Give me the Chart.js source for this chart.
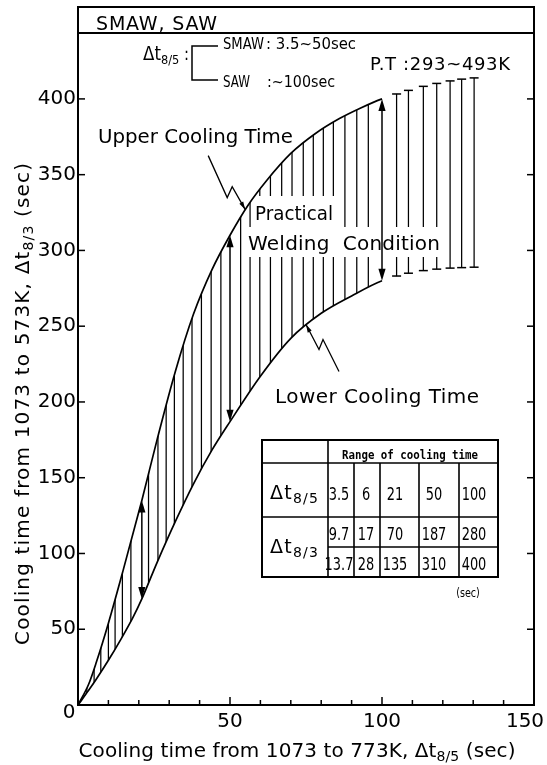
<!DOCTYPE html>
<html>
<head>
<meta charset="utf-8">
<script src="https://cdn.jsdelivr.net/npm/chart.js@4"></script>
<style>
  html, body { margin: 0; padding: 0; background: #fff; }
  canvas { display: block; }
</style>
</head>
<body>
<canvas id="c" width="547" height="765"></canvas>
<script>
// Upper cooling-time boundary: Δt8/5 (sec) -> Δt8/3 (sec)
const upperDt85 = [0, 3.5, 6, 10, 15, 21, 26, 32, 38, 44, 50, 56, 62, 70, 78, 86, 93, 100, 106, 113, 120, 126, 131];
const upperDt83 = [0, 13.7, 28, 54, 90, 135, 175, 220, 258, 287, 310, 330, 346, 364, 377, 387, 394, 400, 404, 408, 411, 413, 414];

// Lower cooling-time boundary
const lowerDt85 = [0, 3.5, 6, 10, 14, 18, 21, 26, 32, 38, 44, 50, 60, 70, 80, 90, 100, 110, 120, 131];
const lowerDt83 = [0, 9.7, 17, 29.5, 43, 57.5, 70, 94, 121, 146, 168, 187, 217, 242, 258.5, 270, 280, 285.5, 288, 289];

// Range of cooling time table
const tableDt85 = [3.5, 6, 21, 50, 100];
const tableDt83Low = [9.7, 17, 70, 187, 280];
const tableDt83High = [13.7, 28, 135, 310, 400];

// Double arrows drawn at these table columns
const arrowColumns = [2, 3, 4];

// Vertical hatching of the practical welding band (Δt8/5 positions)
const hatchDt85 = [2.9, 5.3, 7.5, 10, 12.2, 14.6, 17.4, 23.2, 26.3, 29, 31.7, 34.6, 37.5, 40.6, 43.8, 47,
                   53.5, 56.6, 59.8, 63.3, 67, 70.4, 74.1, 77.4, 80.7, 84, 87.8, 91.7, 95.5,
                   104.8, 108.7, 113.6, 118, 122.4, 126.2, 130.3];

// Past this Δt8/5 the band edges are only indicated by short caps
const brokenFrom = 100;

// Axis ticks
const xTicksMajor = [50, 100, 150];
const xTicksMinor = [10, 20, 30, 40, 60, 70, 80, 90, 110, 120, 130, 140];
const yTicks = [50, 100, 150, 200, 250, 300, 350, 400];

// Where the leader lines touch the curves (Δt8/5)
const upperLeaderAt = 55;
const lowerLeaderAt = 75;

const FONT = '"DejaVu Sans", sans-serif';

function pts(xs, ys) { return xs.map((x, i) => ({ x, y: ys[i] })); }

// Draws text runs (for subscripts); fits them to a width by spacing or squeezing
function drawRuns(ctx, runs, x, y, align, width, squeeze) {
  let natural = 0, n = 0;
  for (const r of runs) {
    ctx.font = r.font;
    ctx.letterSpacing = '0px';
    r._w = ctx.measureText(r.text).width;
    r._n = [...r.text].length;
    natural += r._w; n += r._n;
  }
  let sp = 0, sc = squeeze || 1;
  if (width) {
    if (natural > width) sc = width / natural;
    else sp = (width - natural) / Math.max(1, n - 1);
  }
  const total = (natural + sp * (n - 1)) * sc;
  const x0 = align === 'center' ? x - total / 2 : align === 'right' ? x - total : x;
  ctx.save();
  ctx.translate(x0, y);
  ctx.scale(sc, 1);
  ctx.textAlign = 'left';
  ctx.textBaseline = 'alphabetic';
  let cx = 0;
  for (const r of runs) {
    ctx.font = r.font;
    ctx.letterSpacing = sp + 'px';
    ctx.fillText(r.text, cx, r.dy || 0);
    cx += r._w + sp * r._n;
  }
  ctx.letterSpacing = '0px';
  ctx.restore();
}

function seg(ctx, x1, y1, x2, y2) {
  ctx.beginPath(); ctx.moveTo(x1, y1); ctx.lineTo(x2, y2); ctx.stroke();
}

function head(ctx, x, y, dx, dy, len, half) {
  const L = Math.hypot(dx, dy), ux = dx / L, uy = dy / L;
  ctx.beginPath();
  ctx.moveTo(x, y);
  ctx.lineTo(x - ux * len - uy * half, y - uy * len + ux * half);
  ctx.lineTo(x - ux * len + uy * half, y - uy * len - ux * half);
  ctx.closePath();
  ctx.fill();
}

// Follows a line element's points using its bezier control points
function trace(ctx, points, reverse) {
  const list = reverse ? points.slice().reverse() : points;
  list.forEach((p, i) => {
    if (i === 0) { ctx.lineTo(p.x, p.y); return; }
    const q = list[i - 1];
    if (reverse) ctx.bezierCurveTo(q.cp1x, q.cp1y, p.cp2x, p.cp2y, p.x, p.y);
    else ctx.bezierCurveTo(q.cp2x, q.cp2y, p.cp1x, p.cp1y, p.x, p.y);
  });
}

// Boxes kept clear of hatching behind the band label
const labelBoxes = [[252, 196, 342, 227], [244, 227, 446, 257]];

const bandPlugin = {
  id: 'band',
  afterDatasetsDraw(chart) {
    const ctx = chart.ctx, a = chart.chartArea;
    const sx = chart.scales.x, sy = chart.scales.y;
    const upLine = chart.getDatasetMeta(0).dataset;
    const loLine = chart.getDatasetMeta(1).dataset;
    const upPts = chart.getDatasetMeta(0).data;
    const loPts = chart.getDatasetMeta(1).data;

    ctx.save();
    ctx.strokeStyle = '#000';
    ctx.fillStyle = '#000';

    // hatching, clipped to the band between the two curves
    ctx.save();
    ctx.beginPath();
    ctx.moveTo(upPts[0].x, upPts[0].y);
    trace(ctx, upPts, false);
    trace(ctx, loPts, true);
    ctx.closePath();
    ctx.clip();
    ctx.lineWidth = 1.25;
    for (const h of hatchDt85) {
      const px = sx.getPixelForValue(h);
      let parts = [[a.top, a.bottom]];
      for (const b of labelBoxes) {
        if (px >= b[0] && px <= b[2]) {
          const next = [];
          for (const [t, bt] of parts) {
            if (b[3] <= t || b[1] >= bt) { next.push([t, bt]); continue; }
            if (b[1] > t) next.push([t, b[1]]);
            if (b[3] < bt) next.push([b[3], bt]);
          }
          parts = next;
        }
      }
      for (const [t, bt] of parts) seg(ctx, px, t, px, bt);
    }
    ctx.restore();

    // short caps marking the broken part of both edges
    ctx.lineWidth = 1.5;
    for (const h of hatchDt85) {
      if (h <= brokenFrom) continue;
      const px = sx.getPixelForValue(h);
      const pu = upLine.interpolate({ x: px }, 'x');
      const pl = loLine.interpolate({ x: px }, 'x');
      if (pu && pu.y !== undefined) seg(ctx, px - 4.5, pu.y, px + 4.5, pu.y);
      if (pl && pl.y !== undefined) seg(ctx, px - 4.5, pl.y, px + 4.5, pl.y);
    }

    // double arrows between the tabulated lower and upper values
    ctx.lineWidth = 1.5;
    for (const i of arrowColumns) {
      const px = sx.getPixelForValue(tableDt85[i]);
      const yTop = sy.getPixelForValue(tableDt83High[i]);
      const yBot = sy.getPixelForValue(tableDt83Low[i]);
      seg(ctx, px, yTop + 6, px, yBot - 6);
      head(ctx, px, yTop, 0, -1, 12, 3.6);
      head(ctx, px, yBot, 0, 1, 12, 3.6);
    }

    // leader lines with a zigzag
    ctx.lineWidth = 1.3;
    const tu = upLine.interpolate({ x: sx.getPixelForValue(upperLeaderAt) }, 'x');
    if (tu) {
      const p = [[-37, -54], [-18, -12], [-13, -23], [0, 0]].map(([dx, dy]) => [tu.x + dx, tu.y + dy]);
      ctx.beginPath(); ctx.moveTo(p[0][0], p[0][1]);
      for (let k = 1; k < p.length; k++) ctx.lineTo(p[k][0], p[k][1]);
      ctx.stroke();
      head(ctx, tu.x, tu.y, 13, 23, 8, 2.2);
    }
    const tl = loLine.interpolate({ x: sx.getPixelForValue(lowerLeaderAt) }, 'x');
    if (tl) {
      const p = [[0, 0], [13, 25], [17, 15], [33, 47]].map(([dx, dy]) => [tl.x + dx, tl.y + dy]);
      ctx.beginPath(); ctx.moveTo(p[0][0], p[0][1]);
      for (let k = 1; k < p.length; k++) ctx.lineTo(p[k][0], p[k][1]);
      ctx.stroke();
      head(ctx, tl.x, tl.y, -13, -25, 8, 2.2);
    }

    // curve and band labels
    const f20 = '20px ' + FONT;
    drawRuns(ctx, [{ text: 'Upper Cooling Time', font: f20 }], 98, 143, 'left', 195);
    drawRuns(ctx, [{ text: 'Practical', font: f20 }], 255, 220, 'left', 78);
    drawRuns(ctx, [{ text: 'Welding  Condition', font: f20 }], 248, 250, 'left', 192);
    drawRuns(ctx, [{ text: 'Lower Cooling Time', font: f20 }], 275, 403, 'left', 204);
    ctx.restore();
  },

  afterDraw(chart) {
    const ctx = chart.ctx, a = chart.chartArea;
    const sx = chart.scales.x, sy = chart.scales.y;
    ctx.save();
    ctx.strokeStyle = '#000';
    ctx.fillStyle = '#000';

    // frame with heading row
    const frameTop = 7;
    ctx.lineWidth = 2;
    ctx.strokeRect(a.left, frameTop, a.right - a.left, a.bottom - frameTop);
    seg(ctx, a.left, a.top, a.right, a.top);
    drawRuns(ctx, [{ text: 'SMAW, SAW', font: '19px ' + FONT }], 96, 30, 'left', 121);

    // inward ticks
    ctx.lineWidth = 1.5;
    for (const v of yTicks) {
      const py = sy.getPixelForValue(v);
      seg(ctx, a.left, py, a.left + 7, py);
      seg(ctx, a.right - 7, py, a.right, py);
    }
    for (const v of xTicksMinor) {
      const px = sx.getPixelForValue(v);
      seg(ctx, px, a.bottom, px, a.bottom - 5);
    }
    for (const v of xTicksMajor) {
      if (v >= sx.max) continue;
      const px = sx.getPixelForValue(v);
      seg(ctx, px, a.bottom, px, a.bottom - 8);
    }

    // tick labels
    ctx.font = '20px ' + FONT;
    ctx.textBaseline = 'middle';
    ctx.textAlign = 'right';
    for (const v of yTicks) ctx.fillText(String(v), a.left - 2, sy.getPixelForValue(v));
    ctx.textAlign = 'center';
    ctx.fillText('0', a.left - 9, a.bottom + 8);
    for (const v of xTicksMajor) {
      const px = Math.min(sx.getPixelForValue(v), chart.width - 22);
      ctx.fillText(String(v), px, a.bottom + 17);
    }

    // axis titles
    const f20 = '20px ' + FONT, f13 = '14px ' + FONT;
    drawRuns(ctx, [
      { text: 'Cooling time from 1073 to 773K, Δt', font: f20 },
      { text: '8/5', font: f13, dy: 4 },
      { text: ' (sec)', font: f20 }
    ], 297, 757, 'center', 437);
    ctx.save();
    ctx.translate(29, 404);
    ctx.rotate(-Math.PI / 2);
    drawRuns(ctx, [
      { text: 'Cooling time from 1073 to 573K, Δt', font: f20 },
      { text: '8/3', font: f13, dy: 4 },
      { text: ' (sec)', font: f20 }
    ], 0, 0, 'center', 482);
    ctx.restore();

    // Δt8/5 ranges for SMAW and SAW
    drawRuns(ctx, [
      { text: 'Δt', font: '19px ' + FONT },
      { text: '8/5', font: '13px ' + FONT, dy: 4 },
      { text: ' :', font: '17px ' + FONT }
    ], 143, 60, 'left', 46);
    ctx.lineWidth = 1.5;
    ctx.beginPath();
    ctx.moveTo(218, 46); ctx.lineTo(192, 46); ctx.lineTo(192, 80); ctx.lineTo(218, 80);
    ctx.stroke();
    const f16 = '16px ' + FONT;
    drawRuns(ctx, [{ text: 'SMAW', font: f16 }], 223, 49, 'left', 41);
    drawRuns(ctx, [{ text: ': 3.5~50sec', font: f16 }], 266, 49, 'left', 90);
    drawRuns(ctx, [{ text: 'SAW', font: f16 }], 223, 87, 'left', 27);
    drawRuns(ctx, [{ text: ':~100sec', font: f16 }], 267, 87, 'left', 68);
    drawRuns(ctx, [{ text: 'P.T :293~493K', font: '18px ' + FONT }], 370, 70, 'left', 140);

    // table of cooling-time ranges
    const cx = [262, 328, 354, 380, 419, 459, 498];
    const ry = [440, 463, 517, 547, 577];
    ctx.fillStyle = '#fff';
    ctx.fillRect(cx[0], ry[0], cx[6] - cx[0], ry[4] - ry[0]);
    ctx.fillStyle = '#000';
    ctx.lineWidth = 2;
    ctx.strokeRect(cx[0], ry[0], cx[6] - cx[0], ry[4] - ry[0]);
    ctx.lineWidth = 1.6;
    seg(ctx, cx[0], ry[1], cx[6], ry[1]);
    seg(ctx, cx[0], ry[2], cx[6], ry[2]);
    seg(ctx, cx[1], ry[3], cx[6], ry[3]);
    seg(ctx, cx[1], ry[0], cx[1], ry[4]);
    for (let k = 2; k < 6; k++) seg(ctx, cx[k], ry[1], cx[k], ry[4]);

    drawRuns(ctx, [{ text: 'Range of cooling time', font: 'bold 12px "DejaVu Sans Mono", monospace' }],
      410, 459, 'center', 136);
    drawRuns(ctx, [
      { text: 'Δt', font: '19px ' + FONT },
      { text: '8/5', font: '14px ' + FONT, dy: 4 }
    ], 270, 499, 'left', 48);
    drawRuns(ctx, [
      { text: 'Δt', font: '19px ' + FONT },
      { text: '8/3', font: '14px ' + FONT, dy: 4 }
    ], 270, 553, 'left', 48);

    const valX = [339, 366, 395, 434, 474];
    const fNum = '18px ' + FONT;
    const sq = 0.72;
    tableDt85.forEach((v, i) => drawRuns(ctx, [{ text: String(v), font: fNum }], valX[i], 500, 'center', 0, sq));
    tableDt83Low.forEach((v, i) => drawRuns(ctx, [{ text: String(v), font: fNum }], valX[i], 540, 'center', 0, sq));
    tableDt83High.forEach((v, i) => drawRuns(ctx, [{ text: String(v), font: fNum }], valX[i], 570, 'center', 0, sq));
    drawRuns(ctx, [{ text: '(sec)', font: '12px ' + FONT }], 468, 597, 'center', 0, 0.8);

    ctx.restore();
  }
};

const chart = new Chart(document.getElementById('c'), {
  type: 'line',
  data: {
    datasets: [
      {
        label: 'Upper Cooling Time',
        data: pts(upperDt85, upperDt83),
        borderColor: '#000',
        borderWidth: 1.7,
        pointRadius: 0,
        fill: false,
        cubicInterpolationMode: 'monotone',
        segment: { borderColor: c => (c.p0.parsed.x >= brokenFrom ? 'rgba(0,0,0,0)' : undefined) }
      },
      {
        label: 'Lower Cooling Time',
        data: pts(lowerDt85, lowerDt83),
        borderColor: '#000',
        borderWidth: 1.7,
        pointRadius: 0,
        fill: false,
        cubicInterpolationMode: 'monotone',
        segment: { borderColor: c => (c.p0.parsed.x >= brokenFrom ? 'rgba(0,0,0,0)' : undefined) }
      }
    ]
  },
  options: {
    responsive: false,
    animation: false,
    devicePixelRatio: 1,
    events: [],
    layout: { padding: { left: 78, right: 13, top: 33, bottom: 60 } },
    scales: {
      x: { type: 'linear', min: 0, max: 150, display: false },
      y: { type: 'linear', min: 0, max: 443.5, display: false }
    },
    plugins: {
      legend: { display: false },
      tooltip: { enabled: false },
      title: { display: false }
    }
  },
  plugins: [bandPlugin]
});
</script>
</body>
</html>
